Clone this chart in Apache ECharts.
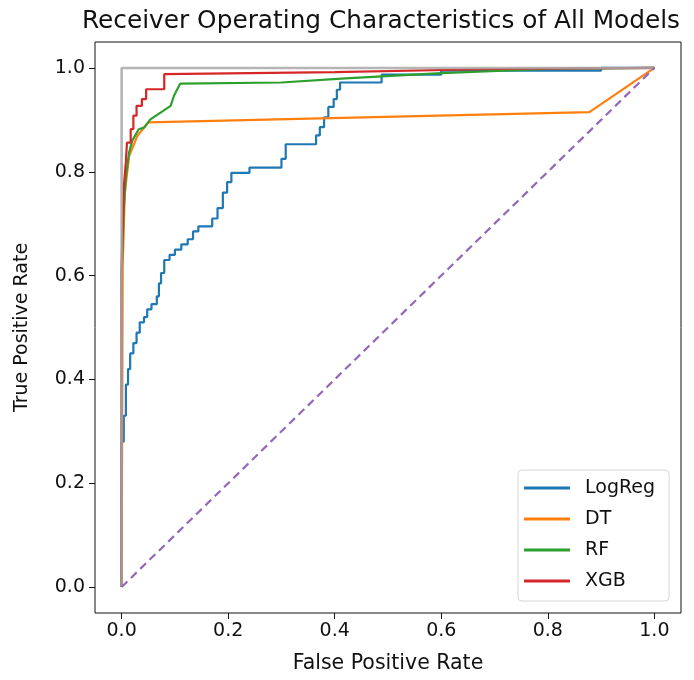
<!DOCTYPE html>
<html>
<head>
<meta charset="utf-8">
<script src="https://cdn.jsdelivr.net/npm/echarts@6/dist/echarts.min.js"></script>
<style>html,body{margin:0;padding:0;background:#fff;}#c{width:694px;height:680px;}</style>
</head>
<body>
<div id="c"></div>
<script>
const modelNames = ['LogReg', 'DT', 'RF', 'XGB'];
const tickValues = [0, 0.2, 0.4, 0.6, 0.8, 1.0];

const logregFpr = [0,0,0.004,0.004,0.008,0.008,0.012,0.012,0.016,0.016,0.022,0.022,0.028,0.028,0.034,0.034,0.042,0.042,0.048,0.048,0.056,0.056,0.066,0.066,0.07,0.07,0.074,0.074,0.08,0.08,0.09,0.09,0.1,0.1,0.112,0.112,0.124,0.124,0.134,0.134,0.144,0.144,0.17,0.17,0.18,0.18,0.19,0.19,0.198,0.198,0.206,0.206,0.24,0.24,0.3,0.3,0.308,0.308,0.365,0.365,0.372,0.372,0.38,0.38,0.388,0.388,0.398,0.398,0.404,0.404,0.41,0.41,0.488,0.488,0.6,0.6,0.9,0.9,1];
const logregTpr = [0,0.28,0.28,0.33,0.33,0.39,0.39,0.42,0.42,0.45,0.45,0.47,0.47,0.49,0.49,0.51,0.51,0.52,0.52,0.535,0.535,0.545,0.545,0.56,0.56,0.585,0.585,0.605,0.605,0.63,0.63,0.64,0.64,0.65,0.65,0.66,0.66,0.67,0.67,0.685,0.685,0.695,0.695,0.71,0.71,0.73,0.73,0.76,0.76,0.78,0.78,0.798,0.798,0.808,0.808,0.825,0.825,0.853,0.853,0.87,0.87,0.886,0.886,0.905,0.905,0.925,0.925,0.94,0.94,0.958,0.958,0.972,0.972,0.987,0.987,0.995,0.995,1,1];

const dtFpr = [0, 0.002, 0.006, 0.014, 0.03, 0.05, 0.878, 1];
const dtTpr = [0, 0.62, 0.76, 0.83, 0.87, 0.895, 0.915, 1];

const rfFpr = [0, 0, 0.004, 0.008, 0.014, 0.02, 0.032, 0.042, 0.054, 0.073, 0.092, 0.098, 0.11, 0.3, 0.42, 0.6, 0.8, 1];
const rfTpr = [0, 0.6, 0.73, 0.79, 0.837, 0.86, 0.882, 0.885, 0.901, 0.914, 0.927, 0.946, 0.97, 0.972, 0.98, 0.99, 0.998, 1];

const xgbFpr = [0, 0, 0.004, 0.008, 0.01, 0.017, 0.017, 0.022, 0.022, 0.028, 0.028, 0.038, 0.038, 0.046, 0.046, 0.08, 0.08, 0.4, 0.7, 1];
const xgbTpr = [0, 0.62, 0.77, 0.82, 0.856, 0.856, 0.882, 0.882, 0.908, 0.908, 0.927, 0.927, 0.94, 0.94, 0.959, 0.959, 0.988, 0.992, 0.998, 1];

const perfectFpr = [0, 0, 1];
const perfectTpr = [0, 1, 1];
const chanceFpr = [0, 1];
const chanceTpr = [0, 1];

const colors = ['#1f77b4', '#ff7f0e', '#2ca02c', '#d62728'];

function zip(a, b) { return a.map((v, i) => [v, b[i]]); }

const chart = echarts.init(document.getElementById('c'), null, {renderer: 'canvas'});
const font = 'DejaVu Sans';
const modelData = [zip(logregFpr, logregTpr), zip(dtFpr, dtTpr), zip(rfFpr, rfTpr), zip(xgbFpr, xgbTpr)];

const series = modelNames.map((n, i) => ({
  name: n, type: 'line', data: modelData[i], showSymbol: false, symbol: 'none',
  lineStyle: {color: colors[i], width: 2.2}, itemStyle: {color: colors[i]}, z: 2 + i, animation: false
}));
series.push({
  name: 'perfect', type: 'line', data: zip(perfectFpr, perfectTpr), symbol: 'none',
  lineStyle: {color: '#a8a8a8', width: 2.6, opacity: 0.85}, z: 10, animation: false
});
series.push({
  name: 'chance', type: 'line', data: zip(chanceFpr, chanceTpr), symbol: 'none',
  lineStyle: {color: '#9467bd', width: 2.2, type: [8, 5]}, z: 11, animation: false
});

chart.setOption({
  animation: false,
  backgroundColor: '#fff',
  title: {
    text: 'Receiver Operating Characteristics of All Models',
    left: 376, top: 4, textAlign: 'center',
    textStyle: {fontFamily: font, fontSize: 24.8, fontWeight: 'normal', color: '#111'}
  },
  grid: {left: 95, right: 13, top: 42, bottom: 67, show: true, borderColor: '#111', borderWidth: 1, backgroundColor: 'transparent'},
  legend: {
    data: modelNames, orient: 'vertical', left: 518, top: 470,
    padding: [8, 14, 10, 6], itemGap: 11, itemWidth: 46, itemHeight: 3, icon: 'rect',
    backgroundColor: '#fff', borderColor: '#d6d6d6', borderWidth: 1, borderRadius: 4,
    textStyle: {fontFamily: font, fontSize: 19, color: '#111', lineHeight: 20, padding: [0, 0, 0, 10]}
  },
  xAxis: {
    type: 'value', min: -0.05, max: 1.05,
    name: 'False Positive Rate', nameLocation: 'middle', nameGap: 40,
    nameTextStyle: {fontFamily: font, fontSize: 20.5, color: '#111'},
    axisLine: {show: false, onZero: false},
    axisTick: {show: true, length: 6, lineStyle: {color: '#111'}, customValues: tickValues},
    axisLabel: {fontFamily: font, fontSize: 19, color: '#111', margin: 9, customValues: tickValues, formatter: v => v.toFixed(1)},
    splitLine: {show: false}
  },
  yAxis: {
    type: 'value', min: -0.05, max: 1.05,
    name: 'True Positive Rate', nameLocation: 'middle', nameGap: 63,
    nameTextStyle: {fontFamily: font, fontSize: 19, color: '#111'},
    axisLine: {show: false, onZero: false},
    axisTick: {show: true, length: 6, lineStyle: {color: '#111'}, customValues: tickValues},
    axisLabel: {fontFamily: font, fontSize: 19, color: '#111', margin: 10, customValues: tickValues, formatter: v => v.toFixed(1)},
    splitLine: {show: false}
  },
  series: series
});
</script>
</body>
</html>
